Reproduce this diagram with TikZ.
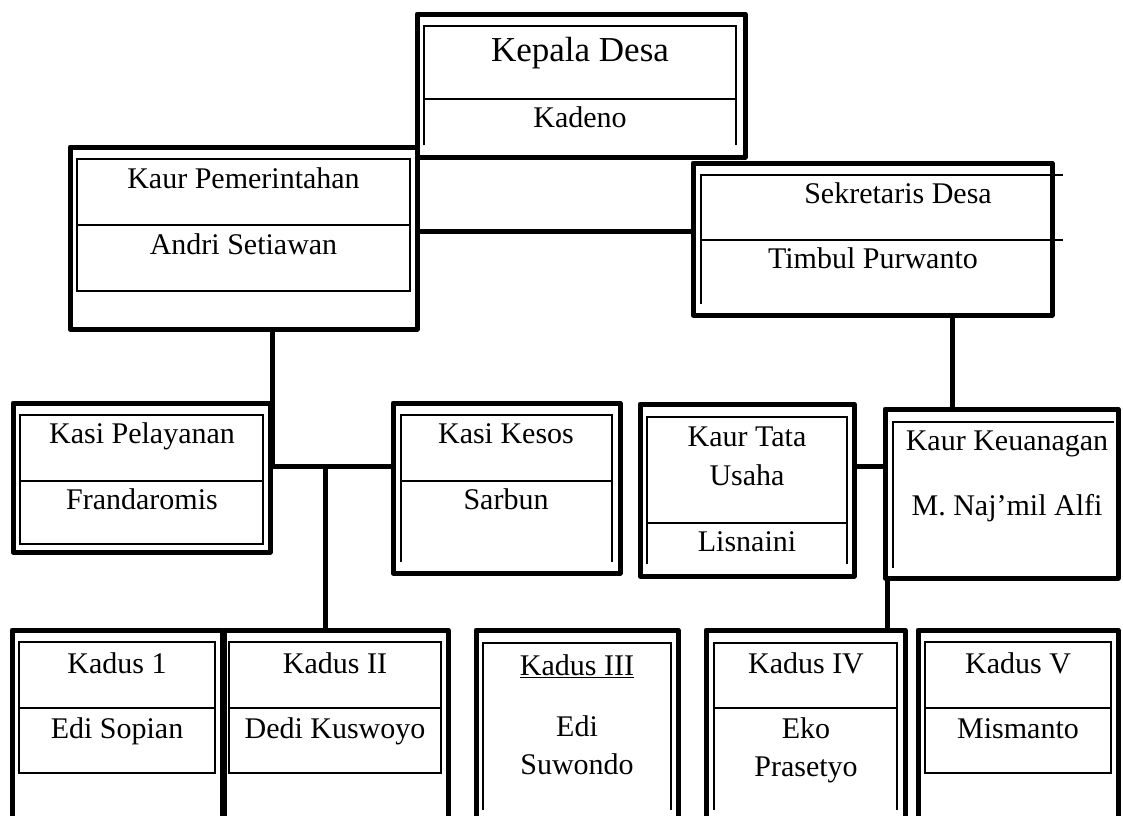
\documentclass[tikz,border=0pt]{standalone}
\usepackage{fontspec}
\setmainfont{Liberation Serif}
\tikzset{kotak/.style={draw,line width=5pt,inner sep=0pt,line join=round},
	isi/.style={line width=2pt},
	garis/.style={line width=5pt},
	teks/.style={anchor=base,inner sep=0pt,font=\fontsize{30}{36}\selectfont}}
\begin{document}
\begin{tikzpicture}[x=1pt,y=-1pt]
	\useasboundingbox (0,0) rectangle (1123,815); \clip (0,0) rectangle (1123,815);
	% kotak luar
	\node[kotak,minimum width=328pt,minimum height=143pt] (kades) at (581,85.5) {};
	\node[kotak,minimum width=347pt,minimum height=182pt] (kaurpem) at (243.5,238) {};
	\node[kotak,minimum width=359pt,minimum height=152pt] (sekdes) at (872.5,239) {};
	\node[kotak,minimum width=257pt,minimum height=149pt] (kasipel) at (141.5,477.5) {};
	\node[kotak,minimum width=227pt,minimum height=170pt] (kasikesos) at (506.5,488) {};
	\node[kotak,minimum width=214pt,minimum height=172pt] (kaurtu) at (747,490) {};
	\node[kotak,minimum width=233pt,minimum height=169pt] (kaurkeu) at (1001.5,493.5) {};
	\node[kotak,minimum width=210pt,minimum height=210pt] (kadus1) at (117,735) {};
	\node[kotak,minimum width=224pt,minimum height=210pt] (kadus2) at (336,735) {};
	\node[kotak,minimum width=202pt,minimum height=210pt] (kadus3) at (577,735) {};
	\node[kotak,minimum width=199pt,minimum height=210pt] (kadus4) at (805.5,735) {};
	\node[kotak,minimum width=200pt,minimum height=210pt] (kadus5) at (1018,735) {};
	
	% garis dalam
	\draw[isi] (424,145) -- (424,26) -- (736,26) -- (736,145); \draw[isi] (424,99) -- (736,99);
	\draw[isi] (77,159) rectangle (410,291); \draw[isi] (77,225) -- (410,225);
	\draw[isi] (701,304) -- (701,175) -- (1063,175); \draw[isi] (701,240) -- (1063,240);
	\draw[isi] (20,415) rectangle (263,544); \draw[isi] (20,481) -- (263,481);
	\draw[isi] (401,562) -- (401,415) -- (612,415) -- (612,562); \draw[isi] (401,481) -- (612,481);
	\draw[isi] (647,564) -- (647,417) -- (847,417) -- (847,564); \draw[isi] (647,523) -- (847,523);
	\draw[isi] (893,568) -- (893,422) -- (1114,422);
	\draw[isi] (19,642) rectangle (215,773); \draw[isi] (19,708) -- (215,708);
	\draw[isi] (229,642) rectangle (441,773); \draw[isi] (229,708) -- (441,708);
	\draw[isi] (483,810) -- (483,643) -- (671,643) -- (671,810);
	\draw[isi] (714,810) -- (714,643) -- (897,643) -- (897,810); \draw[isi] (714,708) -- (897,708);
	\draw[isi] (925,642) rectangle (1111,773); \draw[isi] (925,708) -- (1111,708);
	
	% penghubung
	\coordinate (j1) at ([yshift=7pt]kaurpem.east); \coordinate (j2) at (952,315); \coordinate (j3) at (325,466);
	\coordinate (j4) at (870,466); \coordinate (j5) at (887,578);
	\draw[garis] (j1) -- (j1 -| sekdes.west); \draw[garis] (j2) -- (j2 |- kaurkeu.north);
	\draw[garis] (kaurpem.south -| kasipel.east) -- (kasipel.east |- j3) -- (kasikesos.west |- j3);
	\draw[garis] (j3) -- (j3 |- kadus2.north);
	\draw[garis] (kaurtu.east |- j4) -- (kaurkeu.west |- j4); \draw[garis] (j5) -- (j5 |- kadus4.north);
	
	% teks
	\node[teks,font=\fontsize{35}{40}\selectfont] (tkades) at (580,61) {Kepala Desa}; \node[teks] (nkades) at (580,127) {Kadeno};
	\node[teks] (tkaurpem) at (243.5,188) {Kaur Pemerintahan}; \node[teks] (nkaurpem) at (243.5,254) {Andri Setiawan};
	\node[teks] (tsekdes) at (898,203) {Sekretaris Desa}; \node[teks] (nsekdes) at (873,268) {Timbul Purwanto};
	\node[teks] (tkasipel) at (142,443) {Kasi Pelayanan}; \node[teks] (nkasipel) at (142,509) {Frandaromis};
	\node[teks] (tkasikesos) at (506,443) {Kasi Kesos}; \node[teks] (nkasikesos) at (506,509) {Sarbun};
	\node[teks] (tkaurtu) at (747,446) {Kaur Tata}; \node[teks] (tkaurtu2) at (747,485) {Usaha}; \node[teks] (nkaurtu) at (747,551) {Lisnaini};
	\node[teks] (tkaurkeu) at (1007,450) {Kaur Keuanagan}; \node[teks] (nkaurkeu) at (1007,515) {M. Naj’mil Alfi};
	\node[teks] (tkadus1) at (117,673) {Kadus 1}; \node[teks] (nkadus1) at (117,738) {Edi Sopian};
	\node[teks] (tkadus2) at (335,673) {Kadus II}; \node[teks] (nkadus2) at (335,738) {Dedi Kuswoyo};
	\node[teks] (tkadus3) at (577,675) {\underline{Kadus III}}; \node[teks] (nkadus3) at (577,736) {Edi}; \node[teks] (nkadus3b) at (577,774) {Suwondo};
	\node[teks] (tkadus4) at (806,673) {Kadus IV}; \node[teks] (nkadus4) at (806,738) {Eko}; \node[teks] (nkadus4b) at (806,776) {Prasetyo};
	\node[teks] (tkadus5) at (1018,673) {Kadus V}; \node[teks] (nkadus5) at (1018,738) {Mismanto};
\end{tikzpicture}
\end{document}
